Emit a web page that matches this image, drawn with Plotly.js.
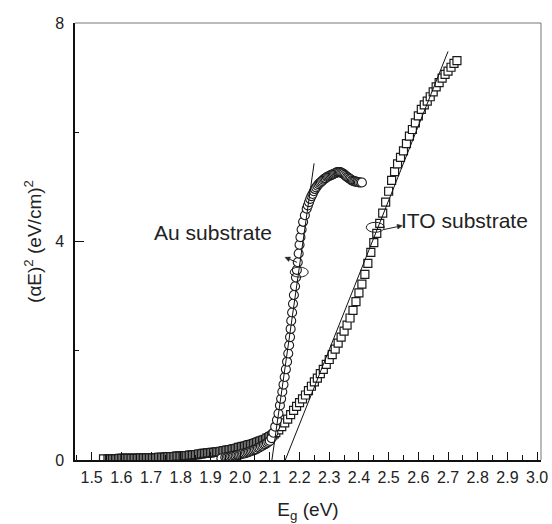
<!DOCTYPE html>
<html>
<head>
<meta charset="utf-8">
<script src="https://cdn.plot.ly/plotly-3.0.1.min.js"></script>
<style>
  html, body { margin: 0; padding: 0; background: #fff; }
  #chart { width: 552px; height: 524px; }
</style>
</head>
<body>
<div id="chart"></div>
<script>
// ITO substrate: photon energy (eV) and (alpha*E)^2
const itoE = [1.540,
  1.555, 1.560, 1.565, 1.570, 1.575, 1.580, 1.585, 1.590, 1.595, 1.600,
  1.605, 1.610, 1.615, 1.620, 1.625, 1.630, 1.635, 1.640, 1.645, 1.650,
  1.655, 1.660, 1.665, 1.670, 1.675, 1.680, 1.685, 1.690, 1.695, 1.700,
  1.705, 1.710, 1.715, 1.720, 1.725, 1.730, 1.735, 1.740, 1.745, 1.750,
  1.755, 1.760, 1.765, 1.770, 1.775, 1.780, 1.785, 1.790, 1.795, 1.800,
  1.805, 1.810, 1.815, 1.820, 1.825, 1.830, 1.835, 1.840, 1.845, 1.850,
  1.855, 1.860, 1.865, 1.870, 1.875, 1.880, 1.885, 1.890, 1.895, 1.900,
  1.905, 1.910, 1.915, 1.920, 1.925, 1.930, 1.935, 1.940, 1.945, 1.950,
  1.955, 1.960, 1.965, 1.970, 1.975, 1.980, 1.985, 1.990, 1.995, 2.000,
  2.005, 2.010, 2.015, 2.020, 2.025, 2.030, 2.035, 2.040, 2.045, 2.050,
  2.055, 2.060, 2.065, 2.070, 2.075, 2.080, 2.085, 2.090, 2.095, 2.100,
  2.105, 2.110, 2.115, 2.120, 2.130, 2.140, 2.150, 2.160, 2.170, 2.180,
  2.190, 2.200, 2.210, 2.220, 2.230, 2.240, 2.250, 2.260, 2.270, 2.280,
  2.290, 2.300, 2.310, 2.320, 2.330, 2.340, 2.350, 2.360, 2.370, 2.380,
  2.390, 2.400, 2.410, 2.420, 2.430, 2.440, 2.450, 2.460, 2.470, 2.480,
  2.490, 2.500, 2.510, 2.520, 2.530, 2.540, 2.550, 2.560, 2.570, 2.580,
  2.590, 2.600, 2.610, 2.620, 2.630, 2.640, 2.650, 2.660, 2.670, 2.680,
  2.690, 2.700, 2.710, 2.720, 2.730];
const itoY = [0.02,
  0.02, 0.02, 0.02, 0.02, 0.02, 0.02, 0.02, 0.02, 0.03, 0.03,
  0.03, 0.03, 0.03, 0.03, 0.03, 0.03, 0.03, 0.03, 0.03, 0.03,
  0.03, 0.03, 0.04, 0.04, 0.04, 0.04, 0.04, 0.04, 0.04, 0.04,
  0.04, 0.04, 0.04, 0.04, 0.05, 0.05, 0.05, 0.05, 0.05, 0.05,
  0.06, 0.06, 0.06, 0.06, 0.06, 0.06, 0.07, 0.07, 0.07, 0.07,
  0.07, 0.07, 0.08, 0.08, 0.08, 0.09, 0.09, 0.09, 0.10, 0.10,
  0.10, 0.11, 0.11, 0.11, 0.12, 0.12, 0.12, 0.13, 0.13, 0.13,
  0.14, 0.14, 0.14, 0.15, 0.15, 0.15, 0.16, 0.16, 0.17, 0.17,
  0.18, 0.18, 0.19, 0.19, 0.20, 0.21, 0.21, 0.22, 0.23, 0.23,
  0.24, 0.25, 0.25, 0.26, 0.27, 0.28, 0.28, 0.29, 0.30, 0.31,
  0.32, 0.33, 0.34, 0.35, 0.36, 0.37, 0.38, 0.40, 0.41, 0.43,
  0.44, 0.46, 0.48, 0.50, 0.55, 0.61, 0.68, 0.75, 0.83, 0.91,
  0.98, 1.05, 1.12, 1.19, 1.27, 1.35, 1.43, 1.50, 1.58, 1.66,
  1.75, 1.84, 1.93, 2.03, 2.14, 2.25, 2.36, 2.47, 2.60, 2.74,
  2.90, 3.06, 3.22, 3.40, 3.60, 3.80, 3.98, 4.15, 4.33, 4.52,
  4.72, 4.92, 5.12, 5.28, 5.42, 5.54, 5.66, 5.79, 5.93, 6.05,
  6.17, 6.30, 6.42, 6.50, 6.57, 6.65, 6.74, 6.83, 6.91, 6.99,
  7.06, 7.12, 7.19, 7.26, 7.31];

// Au substrate: photon energy (eV) and (alpha*E)^2
const auE = [1.937,
  1.950, 1.955, 1.960, 1.965, 1.970, 1.975, 1.980, 1.985, 1.990, 1.995,
  2.000, 2.005, 2.010, 2.015, 2.020, 2.025, 2.030, 2.035, 2.040, 2.045,
  2.050, 2.055, 2.060, 2.065, 2.070, 2.075, 2.080, 2.085, 2.090, 2.095,
  2.100, 2.106, 2.112, 2.118, 2.124, 2.129, 2.134, 2.138, 2.142, 2.146,
  2.150, 2.154, 2.158, 2.162, 2.165, 2.168, 2.170, 2.172, 2.175, 2.178,
  2.181, 2.185, 2.188, 2.191, 2.194, 2.197, 2.200, 2.203, 2.207, 2.212,
  2.218, 2.224, 2.228, 2.232, 2.236, 2.240, 2.244, 2.248, 2.252, 2.256,
  2.260, 2.264, 2.268, 2.272, 2.276, 2.280, 2.284, 2.288, 2.292, 2.296,
  2.300, 2.304, 2.308, 2.312, 2.316, 2.320, 2.324, 2.328, 2.332, 2.336,
  2.340, 2.344, 2.348, 2.352, 2.356, 2.360, 2.364, 2.368, 2.372, 2.376,
  2.380, 2.384, 2.388, 2.392, 2.396, 2.400, 2.405, 2.410];
const auY = [0.03,
  0.05, 0.05, 0.06, 0.06, 0.07, 0.07, 0.08, 0.08, 0.09, 0.09,
  0.10, 0.11, 0.12, 0.12, 0.13, 0.14, 0.15, 0.16, 0.17, 0.18,
  0.19, 0.20, 0.22, 0.23, 0.25, 0.26, 0.28, 0.29, 0.31, 0.33,
  0.35, 0.40, 0.50, 0.61, 0.73, 0.85, 1.00, 1.12, 1.25, 1.38,
  1.52, 1.66, 1.80, 1.95, 2.10, 2.25, 2.40, 2.55, 2.70, 2.86,
  3.02, 3.18, 3.34, 3.48, 3.62, 3.78, 3.94, 4.08, 4.22, 4.36,
  4.48, 4.60, 4.66, 4.72, 4.78, 4.83, 4.87, 4.92, 4.96, 4.99,
  5.02, 5.05, 5.07, 5.09, 5.11, 5.13, 5.15, 5.16, 5.18, 5.19,
  5.20, 5.21, 5.22, 5.23, 5.24, 5.25, 5.26, 5.27, 5.27, 5.27,
  5.26, 5.25, 5.24, 5.22, 5.20, 5.18, 5.17, 5.15, 5.14, 5.12,
  5.11, 5.10, 5.10, 5.09, 5.09, 5.08, 5.08, 5.08];

// Linear extrapolations of the absorption edges
const auFitE = [2.107, 2.249];
const auFitY = [0, 5.43];
const itoFitE = [2.152, 2.700];
const itoFitY = [0, 7.48];

// Axis ticks
const xTick0 = 1.5;
const xTickStep = 0.1;
const xMinorStep = 0.05;
const yTickVals = [0, 4, 8];
const yTickText = ['0', '4', '8'];
const yMinorVals = [2, 6];

const FONT = '"Liberation Sans", Arial, Helvetica, sans-serif';
const INK = '#222';

// Small filled arrowhead + shaft drawn in pixel offsets around an anchor point
function arrowShapes(xa, ya, tailDx, tailDy) {
  const len = Math.hypot(tailDx, tailDy);
  const ux = -tailDx / len, uy = -tailDy / len;   // unit vector tail -> head
  const bx = -5 * ux, by = -5 * uy;               // base of the head
  const px = -uy * 2.4, py = ux * 2.4;            // half-width of the head
  const common = { type: 'path', xref: 'x', yref: 'y', xsizemode: 'pixel', ysizemode: 'pixel',
    xanchor: xa, yanchor: ya };
  return [
    Object.assign({}, common, { path: `M ${tailDx} ${tailDy} L ${bx} ${by}`,
      line: { color: INK, width: 1 } }),
    Object.assign({}, common, { path: `M 0 0 L ${bx + px} ${by + py} L ${bx - px} ${by - py} Z`,
      fillcolor: INK, line: { color: INK, width: 0.5 } })
  ];
}

const traces = [
  {
    x: itoE, y: itoY, type: 'scatter', mode: 'markers', name: 'ITO substrate',
    marker: { symbol: 'square', size: 8, color: '#ffffff', line: { color: '#1a1a1a', width: 1.2 } },
    hoverinfo: 'x+y'
  },
  {
    x: auE, y: auY, type: 'scatter', mode: 'markers', name: 'Au substrate',
    marker: { symbol: 'circle', size: 9, color: '#ffffff', line: { color: '#1a1a1a', width: 1.1 } },
    hoverinfo: 'x+y'
  },
  {
    x: auFitE, y: auFitY, type: 'scatter', mode: 'lines',
    line: { color: '#111', width: 1 }, hoverinfo: 'skip'
  },
  {
    x: itoFitE, y: itoFitY, type: 'scatter', mode: 'lines',
    line: { color: '#111', width: 1 }, hoverinfo: 'skip'
  }
];

const layout = {
  width: 552, height: 524,
  margin: { l: 75, r: 11, t: 23, b: 64, pad: 0 },
  paper_bgcolor: '#fff', plot_bgcolor: '#fff',
  showlegend: false,
  font: { family: FONT, color: '#111', size: 16 },
  xaxis: {
    range: [1.444, 3.013],
    tick0: xTick0, dtick: xTickStep, tickformat: '.1f',
    ticks: 'inside', ticklen: 8, tickwidth: 1, tickcolor: '#111',
    minor: { dtick: xMinorStep, tick0: xTick0, ticks: 'inside', ticklen: 5, tickwidth: 1, tickcolor: '#111' },
    showline: true, linecolor: '#111', linewidth: 1.6,
    showgrid: false, zeroline: false,
    tickfont: { family: FONT, size: 16, color: INK },
    ticklabelstandoff: 2,
    title: { text: 'E<sub>g</sub> (eV)', font: { family: FONT, size: 19, color: INK }, standoff: 18 }
  },
  yaxis: {
    range: [0, 8],
    tickvals: yTickVals, ticktext: yTickText,
    ticks: 'inside', ticklen: 9, tickwidth: 1, tickcolor: '#111',
    minor: { tickvals: yMinorVals, ticks: 'inside', ticklen: 4, tickwidth: 1, tickcolor: '#111' },
    showline: true, linecolor: '#111', linewidth: 1.6,
    showgrid: false, zeroline: false,
    tickfont: { family: FONT, size: 16, color: INK },
    ticklabelstandoff: 6,
    title: { text: '(αE)<sup>2</sup> (eV/cm)<sup>2</sup>', font: { family: FONT, size: 19, color: INK }, standoff: 8 }
  },
  shapes: [
    // upper and right frame lines
    { type: 'line', xref: 'paper', yref: 'paper', x0: 0, x1: 1, y0: 1, y1: 1, line: { color: '#777', width: 1 } },
    { type: 'line', xref: 'paper', yref: 'paper', x0: 1, x1: 1, y0: 0, y1: 1, line: { color: '#777', width: 1 } },
    // ellipses marking which curve each label belongs to
    { type: 'circle', xref: 'x', yref: 'y', xsizemode: 'pixel', ysizemode: 'pixel',
      xanchor: 2.199, yanchor: 3.44, x0: -9, x1: 9, y0: -5, y1: 5,
      line: { color: INK, width: 1 } },
    { type: 'circle', xref: 'x', yref: 'y', xsizemode: 'pixel', ysizemode: 'pixel',
      xanchor: 2.455, yanchor: 4.26, x0: -9, x1: 9, y0: -5, y1: 5,
      line: { color: INK, width: 1 } }
  ]
    .concat(arrowShapes(2.151, 3.71, 12, -5))
    .concat(arrowShapes(2.546, 4.29, -19, -4)),
  annotations: [
    { x: 1.91, y: 4.17, xref: 'x', yref: 'y', text: 'Au substrate', showarrow: false,
      font: { family: FONT, size: 21, color: INK }, xanchor: 'center', yanchor: 'middle' },
    { x: 2.536, y: 4.38, xref: 'x', yref: 'y', text: 'ITO substrate', showarrow: false,
      font: { family: FONT, size: 21, color: INK }, xanchor: 'left', yanchor: 'middle' }
  ]
};

Plotly.newPlot('chart', traces, layout, { staticPlot: true, displayModeBar: false });
</script>
</body>
</html>
